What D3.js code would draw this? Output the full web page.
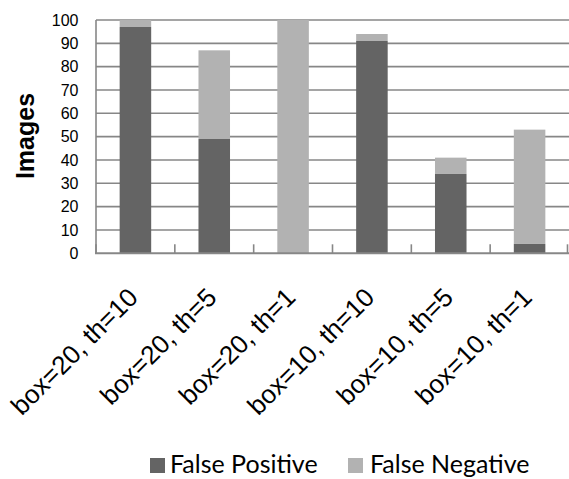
<!DOCTYPE html>
<html>
<head>
<meta charset="utf-8">
<script src="https://cdn.jsdelivr.net/npm/d3@7"></script>
<style>
  html, body { margin: 0; padding: 0; background: #ffffff; }
  svg { display: block; }
</style>
</head>
<body>
<svg id="chart" width="569" height="479"></svg>
<script>
// ---- data ----
const categories = ["box=20, th=10", "box=20, th=5", "box=20, th=1", "box=10, th=10", "box=10, th=5", "box=10, th=1"];
const falsePositive = [97, 49, 0, 91, 34, 4];
const falseNegative = [3, 38, 100, 3, 7, 49];
const seriesNames = ["False Positive", "False Negative"];
const yTicks = [0, 10, 20, 30, 40, 50, 60, 70, 80, 90, 100];

const colors = ["#646464", "#b2b2b2"];
const gridColor = "#878787";

const svg = d3.select("#chart");
const plotLeft = 96, plotRight = 569, plotTop = 20, plotBottom = 253.3;

const x = d3.scaleBand().domain(categories).range([plotLeft, plotRight]).paddingInner(0.6).paddingOuter(0.3);
const y = d3.scaleLinear().domain([0, 100]).range([plotBottom, plotTop]);

// gridlines
svg.append("g").selectAll("line").data(yTicks.filter(d => d > 0)).join("line")
  .attr("x1", plotLeft).attr("x2", plotRight)
  .attr("y1", d => y(d)).attr("y2", d => y(d))
  .attr("stroke", gridColor).attr("stroke-width", 1.6);

// left axis line
svg.append("line").attr("x1", plotLeft).attr("x2", plotLeft).attr("y1", y(100)).attr("y2", plotBottom)
  .attr("stroke", gridColor).attr("stroke-width", 1.6);

// stacked bars
const table = categories.map((c, i) => ({cat: c, fp: falsePositive[i], fn: falseNegative[i]}));
const stack = d3.stack().keys(["fp", "fn"])(table);
svg.append("g").selectAll("g").data(stack).join("g")
  .attr("fill", (d, i) => colors[i])
  .selectAll("rect").data(d => d).join("rect")
  .attr("x", d => x(d.data.cat))
  .attr("width", x.bandwidth())
  .attr("y", d => y(d[1]))
  .attr("height", d => y(d[0]) - y(d[1]));

// bottom axis with category-boundary ticks
const step = x.step();
const boundaries = d3.range(categories.length + 1).map(i => Math.min(plotLeft + i * step, plotRight - 1.5));
svg.append("g").selectAll("line").data(boundaries).join("line")
  .attr("x1", d => d).attr("x2", d => d)
  .attr("y1", plotBottom - 9).attr("y2", plotBottom)
  .attr("stroke", gridColor).attr("stroke-width", 1.6);
svg.append("line").attr("x1", plotLeft - 1).attr("x2", plotRight).attr("y1", plotBottom).attr("y2", plotBottom)
  .attr("stroke", gridColor).attr("stroke-width", 2);

// y tick labels
svg.append("g").selectAll("text").data(yTicks).join("text")
  .attr("x", 78.5).attr("y", d => y(d)).attr("dy", "0.36em")
  .attr("text-anchor", "end")
  .attr("font-family", "'Liberation Sans', Arial, sans-serif")
  .attr("font-size", 16).attr("fill", "#000")
  .text(d => d);

// y axis title
svg.append("text")
  .attr("transform", "translate(34,136) rotate(-90)")
  .attr("text-anchor", "middle")
  .attr("font-family", "'Liberation Sans', Arial, sans-serif")
  .attr("font-weight", "bold").attr("font-size", 25).attr("fill", "#000")
  .text("Images");

// category labels
svg.append("g").selectAll("text").data(categories).join("text")
  .attr("transform", d => `translate(${x(d) + x.bandwidth() / 2 + 4},299) rotate(-45)`)
  .attr("text-anchor", "end")
  .attr("font-family", "'Liberation Sans', Arial, sans-serif")
  .attr("font-size", 26).attr("fill", "#000")
  .text(d => d);

// legend
const legendItems = [{name: seriesNames[0], sx: 150, tx: 170}, {name: seriesNames[1], sx: 348, tx: 370}];
const lg = svg.append("g").selectAll("g").data(legendItems).join("g");
lg.append("rect").attr("x", d => d.sx).attr("y", 458).attr("width", 15).attr("height", 15)
  .attr("fill", (d, i) => colors[i]);
lg.append("text").attr("x", d => d.tx).attr("y", 473)
  .attr("font-family", "Lato, 'Open Sans', sans-serif")
  .attr("font-size", 25).attr("fill", "#000")
  .text(d => d.name);
</script>
</body>
</html>
